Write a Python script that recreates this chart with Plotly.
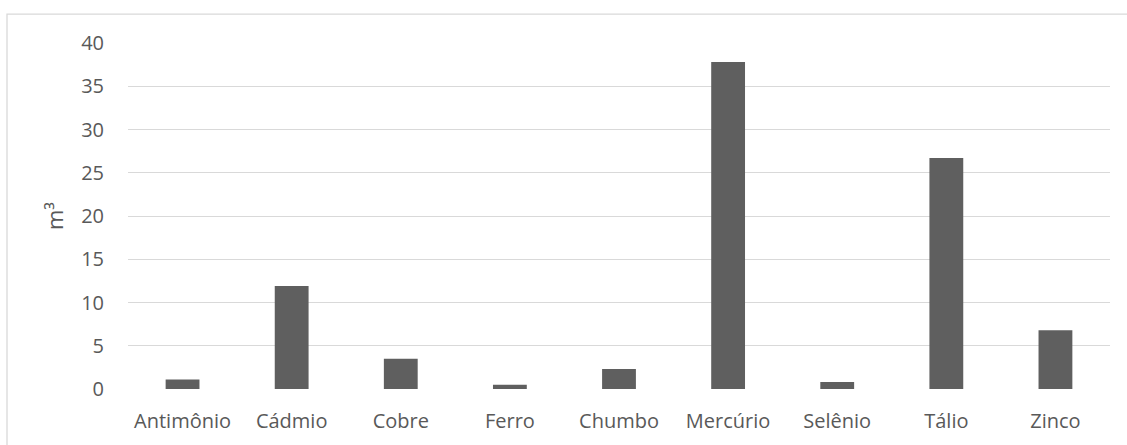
import plotly.graph_objects as go

categories = ["Antimônio", "Cádmio", "Cobre", "Ferro", "Chumbo", "Mercúrio", "Selênio", "Tálio", "Zinco"]
values = [1.1, 11.9, 3.5, 0.5, 2.3, 37.8, 0.8, 26.7, 6.8]
y_ticks = [0, 5, 10, 15, 20, 25, 30, 35, 40]

FONT = "Open Sans"
TXT = "#595959"

fig = go.Figure(go.Bar(
    x=categories, y=values,
    marker=dict(color="#5f5f5f", line=dict(width=0)),
))

L, R, T, B = 128, 17, 43, 55.5
W, H = 1127, 445
pw, ph = W - L - R, H - T - B

fig.update_layout(
    width=W, height=H,
    margin=dict(l=L, r=R, t=T, b=B, pad=0),
    paper_bgcolor="white", plot_bgcolor="white",
    bargap=0.69,
    showlegend=False,
    font=dict(family=FONT, size=20, color=TXT),
    xaxis=dict(
        showgrid=False, zeroline=False, showline=False, ticks="",
        tickfont=dict(family=FONT, size=20, color=TXT),
        ticklabelstandoff=18,
    ),
    yaxis=dict(
        range=[0, 40], tickvals=y_ticks, showgrid=True, gridcolor="#d9d9d9", gridwidth=1.3,
        zeroline=False, showline=False, ticks="",
        tickfont=dict(family=FONT, size=20, color=TXT),
        ticklabelstandoff=23,
        title=dict(text="m³", font=dict(family=FONT, size=22, color=TXT), standoff=11),
    ),
    shapes=[dict(
        type="rect", xref="paper", yref="paper",
        x0=(7 - L) / pw, x1=(1140 - L) / pw,
        y0=(H - B - 460) / ph, y1=(H - B - 14) / ph,
        line=dict(color="#d9d9d9", width=1.3), fillcolor="rgba(0,0,0,0)", layer="below",
    )],
)

fig.write_html("out.html")
